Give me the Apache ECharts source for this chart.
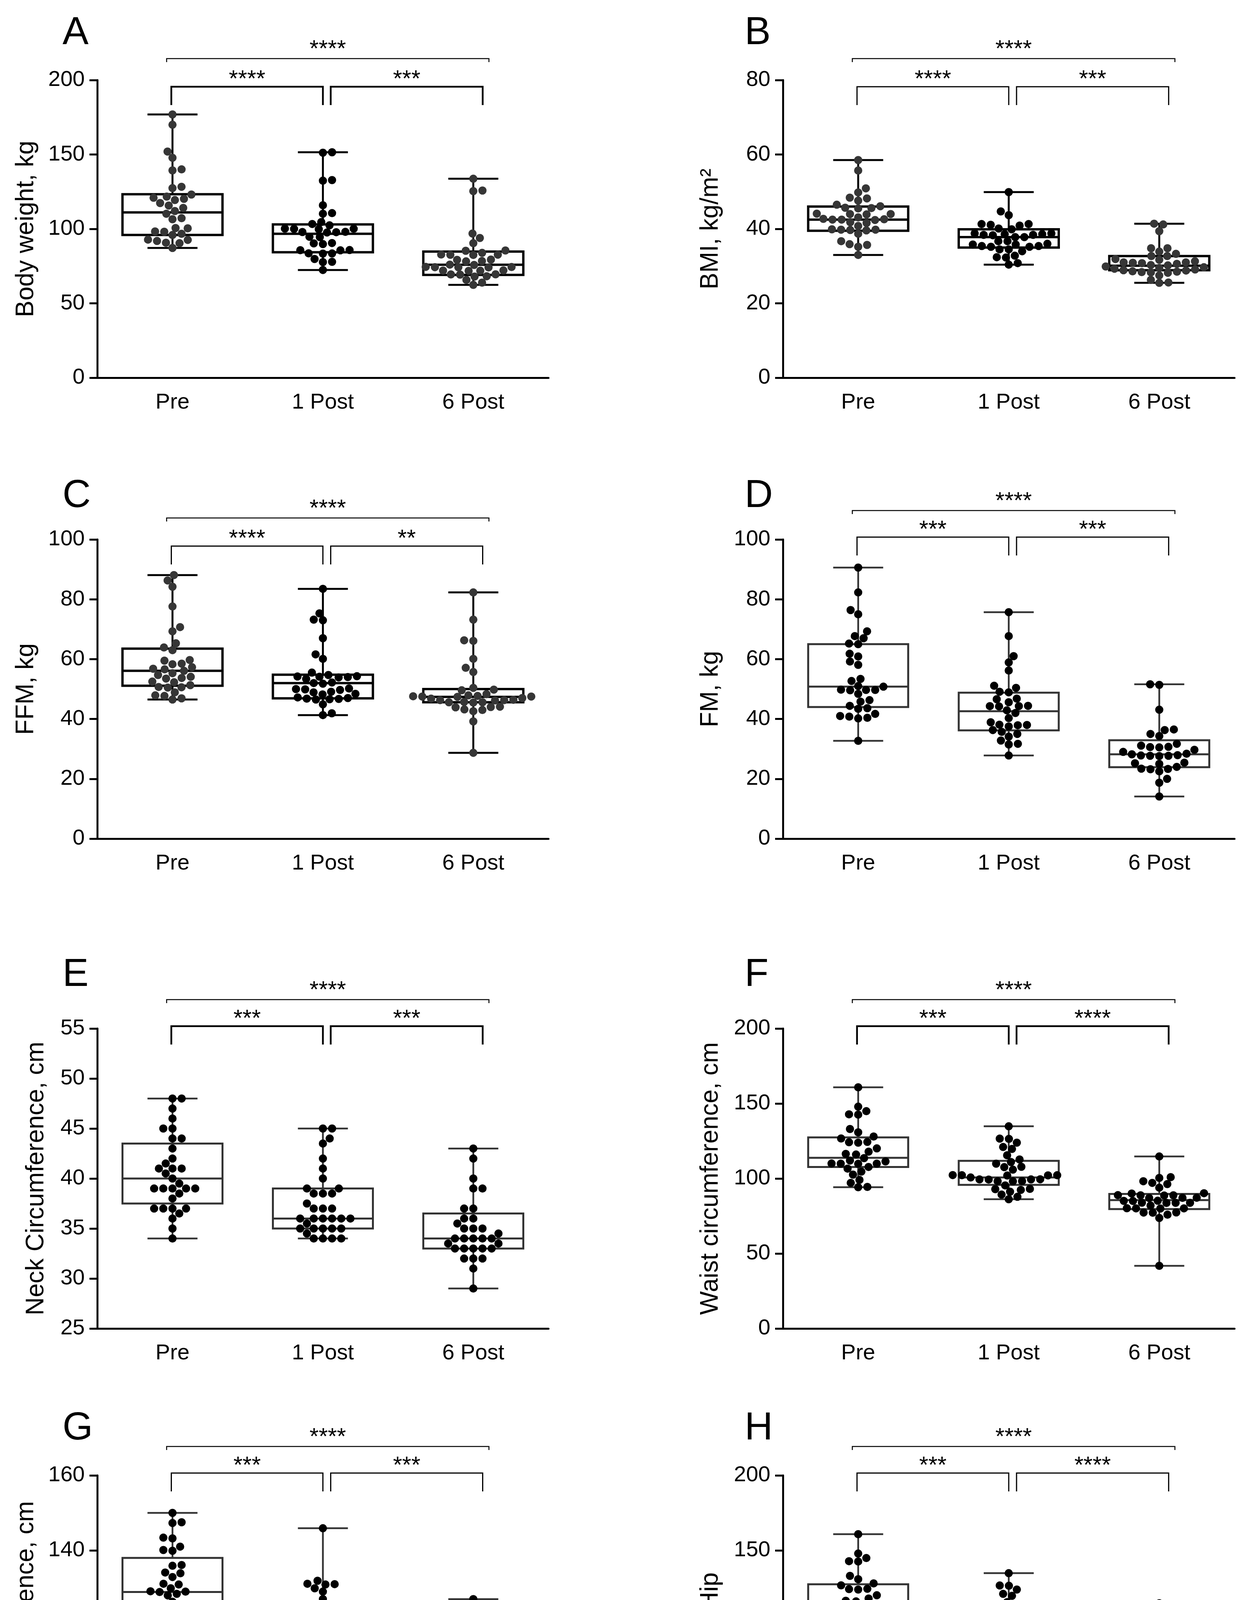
<!DOCTYPE html>
<html>
<head>
<meta charset="utf-8">
<script src="https://cdn.jsdelivr.net/npm/echarts@6/dist/echarts.min.js"></script>
<style>
  html, body { margin: 0; padding: 0; background: #fff; }
  #chart { width: 3197px; height: 4664px; }
</style>
</head>
<body>
<div id="chart"></div>
<script>
const groups = ['Pre', '1 Post', '6 Post'];

// A - body weight
const weightPre = [176.9, 170.0, 152.0, 147.8, 140.0, 139.3, 127.4, 128.3, 121.7, 120.2, 119.4, 120.9, 123.1, 117.4, 115.7, 112.0, 114.1, 110.2, 107.2, 106.5, 100.6, 100.4, 98.1, 95.9, 98.3, 96.7, 91.9, 90.4, 92.8, 92.6, 90.7, 87.2];
const weightPost1 = [151.5, 151.2, 132.8, 132.4, 115.9, 110.6, 110.2, 104.6, 103.3, 102.4, 100.2, 100.0, 99.8, 100.1, 97.9, 97.6, 97.8, 98.0, 94.7, 94.5, 90.5, 90.3, 89.8, 85.8, 85.6, 85.7, 83.6, 83.4, 83.5, 79.8, 77.9, 77.7, 72.4];
const weightPost6 = [133.7, 125.8, 125.4, 96.9, 93.9, 90.4, 85.5, 85.3, 83.9, 82.7, 82.5, 82.6, 82.8, 79.4, 79.2, 78.4, 78.2, 76.0, 75.8, 74.4, 74.2, 74.3, 74.5, 74.1, 72.0, 71.8, 71.9, 72.1, 69.5, 69.3, 69.4, 68.2, 68.0, 65.7, 63.9, 62.4];
const weightQuart = [[95.9, 111.1, 123.3], [84.3, 96.7, 103.0], [69.1, 75.9, 84.8]];
const weightStars = ['****', '***', '****'];

// B - BMI
const bmiPre = [58.5, 55.7, 50.9, 49.8, 48.4, 48.2, 47.6, 46.5, 46.1, 45.7, 45.5, 45.6, 44.1, 43.9, 44.0, 44.0, 43.1, 42.6, 42.4, 42.5, 42.5, 42.7, 41.8, 41.6, 40.8, 39.9, 39.7, 39.8, 39.8, 39.6, 38.7, 36.7, 35.9, 35.7, 35.2, 33.0];
const bmiPost1 = [49.9, 44.7, 43.7, 41.3, 40.9, 41.1, 41.3, 39.9, 40.1, 38.6, 38.8, 38.4, 38.3, 38.4, 38.8, 38.6, 37.8, 37.8, 36.7, 36.7, 35.4, 35.2, 36.0, 35.8, 35.8, 35.4, 35.2, 34.5, 34.5, 34.0, 32.8, 32.4, 32.3, 30.4, 30.8];
const bmiPost6 = [41.4, 41.2, 39.4, 34.8, 34.8, 33.9, 33.3, 32.7, 32.7, 31.9, 31.7, 31.3, 31.0, 31.0, 30.9, 30.8, 30.6, 30.3, 30.2, 29.9, 29.7, 29.5, 29.3, 29.1, 28.9, 28.8, 28.6, 28.5, 28.4, 28.3, 28.2, 27.5, 26.3, 25.6, 25.5];
const bmiQuart = [[39.5, 42.5, 46.0], [35.0, 37.8, 39.9], [28.9, 30.1, 32.7]];
const bmiStars = ['****', '***', '****'];

// C - fat free mass
const ffmPre = [88.1, 86.3, 84.2, 77.6, 70.7, 69.3, 65.3, 63.9, 63.0, 59.7, 59.5, 58.5, 58.3, 57.3, 56.8, 56.6, 56.1, 55.3, 54.7, 54.1, 53.7, 53.5, 52.5, 52.3, 51.3, 50.7, 50.5, 50.6, 48.9, 47.9, 47.7, 46.9, 46.5];
const ffmPost1 = [83.5, 75.3, 73.2, 73.0, 67.0, 61.6, 60.1, 55.5, 54.7, 54.2, 54.0, 54.1, 54.3, 53.9, 53.4, 52.2, 52.0, 51.8, 50.2, 50.0, 49.9, 49.7, 49.1, 48.9, 48.4, 48.2, 47.2, 47.0, 46.8, 46.7, 46.5, 46.6, 44.9, 41.9, 41.3];
const ffmPost6 = [82.3, 73.2, 66.3, 66.1, 60.1, 57.1, 55.7, 50.4, 49.8, 49.6, 48.3, 47.9, 47.7, 47.6, 47.4, 47.5, 47.5, 47.0, 46.8, 46.4, 46.2, 46.3, 46.3, 45.7, 45.5, 45.6, 45.6, 44.1, 43.9, 44.0, 43.2, 43.0, 42.6, 39.2, 28.7];
const ffmQuart = [[51.1, 56.1, 63.5], [46.9, 52.0, 54.8], [45.6, 47.4, 50.0]];
const ffmStars = ['****', '**', '****'];

// D - fat mass
const fmPre = [90.6, 82.3, 76.4, 75.0, 69.3, 67.7, 67.0, 65.2, 65.0, 61.8, 60.9, 59.2, 58.1, 53.4, 52.7, 51.0, 50.8, 49.8, 49.6, 49.7, 49.7, 48.4, 46.3, 45.8, 44.4, 43.6, 43.4, 41.7, 41.0, 40.8, 40.4, 40.2, 32.7];
const fmPost1 = [75.7, 67.7, 61.0, 58.9, 56.2, 51.1, 50.4, 49.1, 48.9, 46.8, 46.6, 45.6, 44.4, 44.2, 44.3, 44.3, 42.9, 42.0, 40.3, 38.9, 38.1, 37.9, 38.0, 37.5, 36.3, 35.7, 35.0, 34.1, 32.8, 31.7, 31.5, 27.8];
const fmPost6 = [51.6, 51.4, 43.1, 36.5, 36.3, 35.0, 34.3, 31.7, 31.1, 30.7, 30.5, 30.6, 29.7, 29.0, 28.4, 28.2, 27.8, 27.6, 27.7, 27.7, 27.9, 25.4, 25.2, 25.0, 24.0, 23.4, 23.2, 23.3, 22.5, 20.0, 18.7, 14.1];
const fmQuart = [[44.0, 50.8, 65.0], [36.2, 42.6, 48.8], [23.9, 28.2, 32.9]];
const fmStars = ['***', '***', '****'];

// E - neck circumference
const neckPre = [48, 48, 47, 46, 45, 45, 44, 44, 43, 42, 41.5, 41, 41, 41, 40.5, 40, 39.5, 39, 39, 39, 39, 39, 38.5, 38, 37, 37, 37, 37, 36.5, 36, 35, 34];
const neckPost1 = [45, 45, 44, 43.5, 42, 41, 40, 39, 39, 38.5, 38.5, 38.5, 37.5, 37, 37, 37, 36, 36, 36, 36, 36, 36, 35.5, 35, 35, 35, 35, 35, 34.5, 34, 34, 34, 34];
const neckPost6 = [43, 42, 40, 39, 39, 37, 37, 36, 36, 35.5, 35, 35, 35, 34.5, 34, 34, 34, 34, 34, 33.5, 33.5, 33, 33, 33, 33, 33, 32, 32, 32, 31, 29];
const neckQuart = [[37.5, 40, 43.5], [35, 36, 39], [33, 34, 36.5]];
const neckStars = ['***', '***', '****'];

// F - waist circumference
const waistPre = [160.8, 147.9, 144.9, 142.8, 142.6, 133.0, 130.8, 128.0, 126.7, 124.4, 124.2, 123.9, 120.1, 117.9, 116.4, 116.0, 113.6, 112.0, 111.4, 110.0, 109.8, 109.9, 109.9, 107.7, 106.6, 104.6, 102.6, 99.1, 97.1, 94.4, 94.2];
const waistPost1 = [134.8, 126.6, 126.4, 123.9, 121.0, 119.7, 115.5, 112.7, 111.0, 109.9, 107.8, 107.6, 105.9, 102.3, 102.1, 102.2, 102.2, 102.0, 100.7, 99.5, 99.3, 99.4, 99.4, 98.3, 98.1, 98.2, 95.4, 93.1, 92.9, 92.4, 91.2, 89.3, 87.8, 86.2];
const waistPost6 = [114.7, 100.9, 100.4, 98.2, 97.1, 96.3, 93.9, 90.2, 90.0, 88.9, 88.7, 88.8, 88.8, 87.2, 87.0, 87.1, 85.2, 85.0, 85.1, 83.9, 83.7, 83.8, 83.8, 82.0, 80.2, 80.0, 80.1, 80.1, 77.4, 77.2, 77.3, 75.9, 73.7, 41.8];
const waistQuart = [[107.7, 113.8, 127.4], [95.8, 100.7, 111.8], [79.6, 85.6, 89.7]];
const waistStars = ['***', '****', '****'];

// G - hip circumference
const hipPre = [150.0, 147.5, 147.3, 143.4, 143.2, 141.0, 140.1, 139.9, 136.1, 135.9, 134.1, 133.9, 132.9, 131.1, 130.9, 129.9, 129.1, 128.9, 129.0, 128.4, 128.0, 126.3, 124.1, 122.2, 122.0, 122.1, 121.5, 121.0, 120.8, 120.0, 116.5, 107.5];
const hipPost1 = [145.9, 131.9, 131.1, 130.9, 131.0, 129.9, 129.0, 127.0, 124.0, 121.6, 121.4, 121.5, 121.5, 121.3, 120.0, 119.1, 118.5, 116.5, 115.1, 114.1, 113.3, 113.1, 113.2, 112.0, 110.0, 109.0, 108.5, 108.0, 107.8, 107.1, 106.9, 101.1];
const hipPost6 = [127.0, 118.0, 117.1, 115.1, 114.9, 114.0, 112.0, 110.0, 109.1, 108.9, 109.0, 108.2, 108.0, 107.3, 107.1, 106.3, 105.0, 104.0, 102.3, 102.1, 102.2, 102.2, 101.2, 100.2, 100.0, 100.1, 99.2, 98.4, 98.2, 97.2, 97.0, 95.9, 95.7];
const hipQuart = [[121.9, 128.9, 138.0], [111.1, 119.1, 125.5], [100.1, 105.2, 109.5]];
const hipStars = ['***', '***', '****'];

// H - waist/hip: the plotted values in the figure are the same as in F
const ratioPre = waistPre.slice();
const ratioPost1 = waistPost1.slice();
const ratioPost6 = waistPost6.slice();
const ratioQuart = waistQuart.map(q => q.slice());
const ratioStars = ['***', '****', '****'];

const FONT = "'Liberation Sans', Arial, sans-serif";
const cols = [{ left: 249, width: 1155, letterX: 160, nameGap: 150 }, { left: 2004, width: 1156, letterX: 1906, nameGap: 153 }];
const rows = [
  { top: 205, height: 762, letterY: 85 },
  { top: 1381, height: 766, letterY: 1270 },
  { top: 2633, height: 768, letterY: 2496 },
  { top: 3777, height: 768, letterY: 3657 }
];

const panels = [
  { letter: 'A', title: 'Body weight, kg', vals: [weightPre, weightPost1, weightPost6], quart: weightQuart, stars: weightStars, min: 0, max: 200, step: 50, col: 0, row: 0, look: 'bold' },
  { letter: 'B', title: 'BMI, kg/m\u00b2', vals: [bmiPre, bmiPost1, bmiPost6], quart: bmiQuart, stars: bmiStars, min: 0, max: 80, step: 20, col: 1, row: 0, look: 'bold' },
  { letter: 'C', title: 'FFM, kg', vals: [ffmPre, ffmPost1, ffmPost6], quart: ffmQuart, stars: ffmStars, min: 0, max: 100, step: 20, col: 0, row: 1, look: 'bold' },
  { letter: 'D', title: 'FM, kg', vals: [fmPre, fmPost1, fmPost6], quart: fmQuart, stars: fmStars, min: 0, max: 100, step: 20, col: 1, row: 1, look: 'thin' },
  { letter: 'E', title: 'Neck Circumference, cm', vals: [neckPre, neckPost1, neckPost6], quart: neckQuart, stars: neckStars, min: 25, max: 55, step: 5, col: 0, row: 2, look: 'thin', nameGap: 124 },
  { letter: 'F', title: 'Waist circumference, cm', vals: [waistPre, waistPost1, waistPost6], quart: waistQuart, stars: waistStars, min: 0, max: 200, step: 50, col: 1, row: 2, look: 'thin' },
  { letter: 'G', title: 'Hip circumference, cm', vals: [hipPre, hipPost1, hipPost6], quart: hipQuart, stars: hipStars, min: 80, max: 160, step: 20, col: 0, row: 3, look: 'thin' },
  { letter: 'H', title: 'Waist/Hip', vals: [ratioPre, ratioPost1, ratioPost6], quart: ratioQuart, stars: ratioStars, min: 0, max: 200, step: 50, col: 1, row: 3, look: 'thin' }
];

// beeswarm-like spread: points that sit close in y are pushed sideways.
// dx = horizontal spacing, dy = vertical distance below which points collide (ellipse)
function swarm(values, pxPerUnit, dx, dy) {
  const order = values.map((v, i) => i).sort((a, b) => values[a] - values[b]);
  const placed = [];
  const off = new Array(values.length).fill(0);
  let balance = 0;
  const hits = (x, y, p) => ((p.x - x) / dx) ** 2 + ((p.y - y) / dy) ** 2 < 0.999;
  order.forEach(i => {
    const y = values[i] * pxPerUnit;
    const near = placed.filter(p => Math.abs(p.y - y) < dy);
    const cands = [0];
    near.forEach(p => {
      const w = dx * Math.sqrt(Math.max(0, 1 - ((p.y - y) / dy) ** 2));
      cands.push(p.x + w, p.x - w);
    });
    const ok = cands.filter(x => near.every(p => !hits(x, y, p)));
    ok.sort((a, b) => Math.abs(a) - Math.abs(b));
    const best = Math.abs(ok[0]);
    const tied = ok.filter(x => Math.abs(Math.abs(x) - best) < 0.5);
    let x = tied[0];
    if (tied.length > 1) x = balance > 0 ? Math.min(...tied) : Math.max(...tied);
    balance += x;
    placed.push({ x, y });
    off[i] = x;
  });
  return off;
}

const grid = [], xAxis = [], yAxis = [], series = [], graphic = [];

panels.forEach((p, k) => {
  const c = cols[p.col], r = rows[p.row];
  const bold = p.look === 'bold';
  const boxColor = bold ? '#000' : '#333';
  const boxWidth = bold ? 6 : 5;
  const dotColors = bold ? ['#363636', '#000', '#363636'] : ['#000', '#000', '#000'];

  grid.push({ left: c.left, top: r.top, width: c.width, height: r.height, containLabel: false });

  xAxis.push({
    gridIndex: k, type: 'category', data: groups,
    axisLine: { onZero: false, lineStyle: { color: '#000', width: 5 } },
    axisTick: { alignWithLabel: true, length: 20, lineStyle: { color: '#000', width: 5 } },
    axisLabel: { color: '#000', fontSize: 56, margin: 36, fontFamily: FONT },
    splitLine: { show: false }
  });

  yAxis.push({
    gridIndex: k, type: 'value', min: p.min, max: p.max, interval: p.step,
    name: p.title, nameLocation: 'middle', nameGap: p.nameGap || c.nameGap,
    nameTextStyle: { color: '#000', fontSize: 64, fontFamily: FONT },
    axisLine: { show: true, lineStyle: { color: '#000', width: 5 } },
    axisTick: { show: true, length: 20, lineStyle: { color: '#000', width: 5 } },
    axisLabel: { color: '#000', fontSize: 56, margin: 32, fontFamily: FONT },
    splitLine: { show: false }
  });

  // boxes: min, q1, median, q3, max (whiskers run from min to max)
  const boxData = p.vals.map((v, i) => [i, Math.min(...v), p.quart[i][0], p.quart[i][1], p.quart[i][2], Math.max(...v)]);
  series.push({
    type: 'custom', xAxisIndex: k, yAxisIndex: k, z: 2,
    encode: { x: 0, y: [1, 2, 3, 4, 5] },
    data: boxData,
    renderItem: (params, api) => {
      const ci = api.value(0);
      const x = api.coord([ci, api.value(3)])[0];
      const yMin = api.coord([ci, api.value(1)])[1];
      const yQ1 = api.coord([ci, api.value(2)])[1];
      const yMed = api.coord([ci, api.value(3)])[1];
      const yQ3 = api.coord([ci, api.value(4)])[1];
      const yMax = api.coord([ci, api.value(5)])[1];
      const hw = 128, cw = 64;
      const st = { stroke: boxColor, lineWidth: boxWidth, fill: null };
      const wst = { stroke: boxColor, lineWidth: bold ? 5 : 4.5 };
      return {
        type: 'group',
        children: [
          { type: 'line', shape: { x1: x, y1: yMax, x2: x, y2: yQ3 }, style: wst },
          { type: 'line', shape: { x1: x, y1: yQ1, x2: x, y2: yMin }, style: wst },
          { type: 'line', shape: { x1: x - cw, y1: yMax, x2: x + cw, y2: yMax }, style: wst },
          { type: 'line', shape: { x1: x - cw, y1: yMin, x2: x + cw, y2: yMin }, style: wst },
          { type: 'rect', shape: { x: x - hw, y: yQ3, width: 2 * hw, height: yQ1 - yQ3 }, style: st },
          { type: 'line', shape: { x1: x - hw, y1: yMed, x2: x + hw, y2: yMed }, style: { stroke: boxColor, lineWidth: boxWidth } }
        ]
      };
    }
  });

  // dots
  const pxPerUnit = r.height / (p.max - p.min);
  p.vals.forEach((v, i) => {
    const off = swarm(v, pxPerUnit, 23.5, 19);
    series.push({
      type: 'custom', xAxisIndex: k, yAxisIndex: k, z: 3,
      encode: { x: 0, y: 1 },
      data: v.map((val, j) => [i, val, off[j]]),
      renderItem: (params, api) => {
        const pt = api.coord([api.value(0), api.value(1)]);
        return { type: 'circle', shape: { cx: pt[0] + api.value(2), cy: pt[1], r: 10.5 }, style: { fill: dotColors[i] } };
      }
    });
  });

  // significance brackets
  const lowOff = bold ? 17 : -6;
  const topOff = bold ? -55 : -74;
  const lowWidth = (p.letter === 'A' || p.letter === 'E' || p.letter === 'F') ? 4.5 : 3;
  const pairs = [[0, 1, -3, 0], [1, 2, 20, 24], [0, 2, -15, 40]];
  series.push({
    type: 'custom', xAxisIndex: k, yAxisIndex: k, z: 4, clip: false,
    encode: { x: 0, y: 1 },
    data: p.stars.map((s, i) => [i, p.max]),
    renderItem: (params, api) => {
      const i = params.dataIndex;
      const pr = pairs[i];
      const gTop = api.coord([0, p.max])[1];
      const x1 = api.coord([pr[0], p.max])[0] + pr[2];
      const x2 = api.coord([pr[1], p.max])[0] + pr[3];
      const isTop = i === 2;
      const y = gTop + (isTop ? topOff : lowOff);
      const drop = isTop ? 9 : 47;
      return {
        type: 'group',
        children: [
          { type: 'polyline', shape: { points: [[x1, y + drop], [x1, y], [x2, y], [x2, y + drop]] }, style: { stroke: '#000', lineWidth: isTop ? 2.5 : lowWidth, fill: null } },
          { type: 'text', x: (x1 + x2) / 2, y: y - (isTop ? 23 : 18), style: { text: p.stars[i], fill: '#000', font: '60px ' + FONT, align: 'center', verticalAlign: 'middle' } }
        ]
      };
    }
  });

  graphic.push({
    type: 'text', left: c.letterX, top: r.letterY - 50,
    style: { text: p.letter, fill: '#000', font: '100px ' + FONT }
  });
});

const chart = echarts.init(document.getElementById('chart'), null, { renderer: 'canvas', width: 3197, height: 4664 });
chart.setOption({
  backgroundColor: '#fff',
  animation: false,
  textStyle: { fontFamily: FONT },
  grid, xAxis, yAxis, series, graphic
});
</script>
</body>
</html>
